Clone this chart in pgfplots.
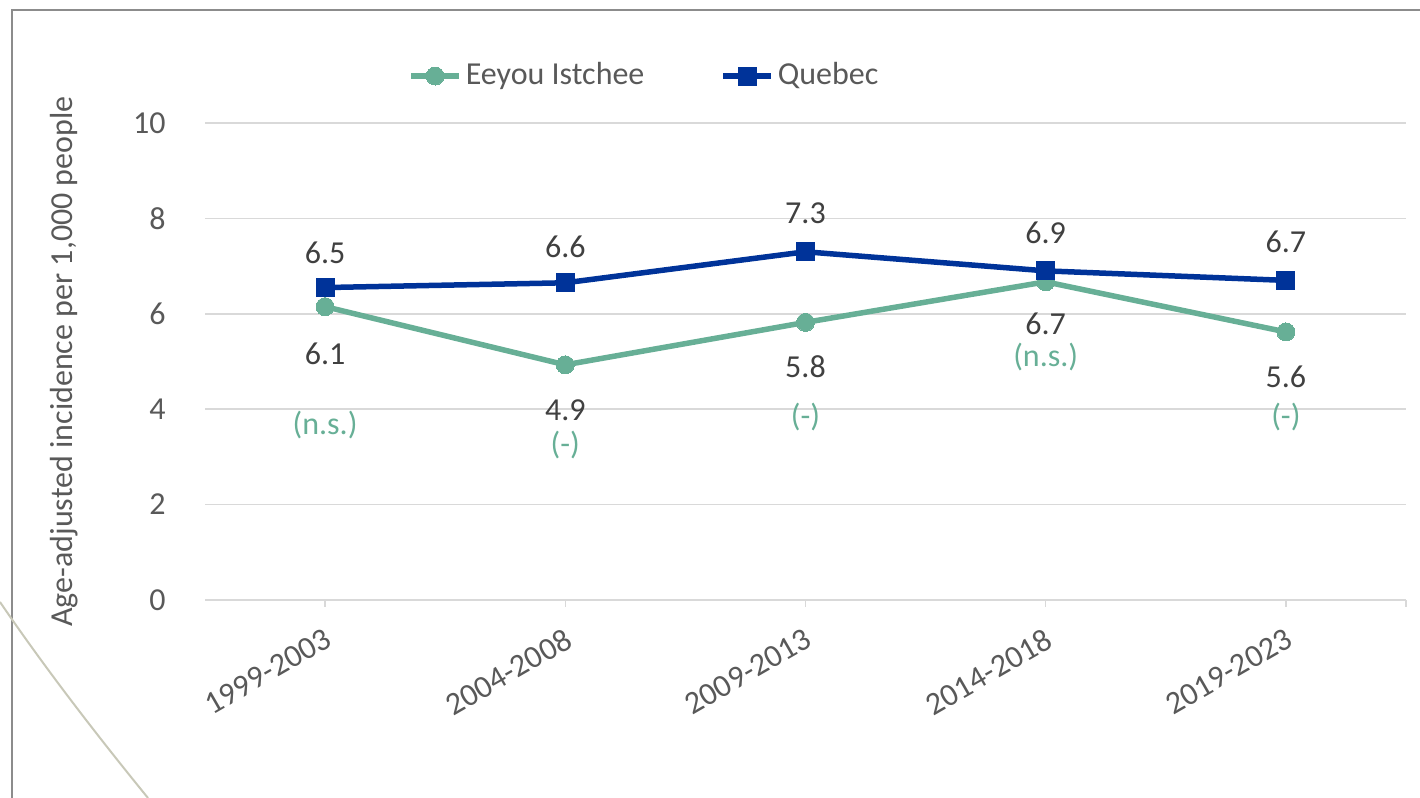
\documentclass[border=0pt]{standalone}
\usepackage{fontspec}
\setmainfont{Carlito}
\usepackage{pgfplots}
\pgfplotsset{compat=1.18}
\definecolor{eeyou}{HTML}{67AF96}
\definecolor{qc}{HTML}{003399}
\definecolor{gridc}{HTML}{D9D9D9}
\definecolor{txt}{HTML}{595959}
\definecolor{lab}{HTML}{404040}
\definecolor{framec}{HTML}{8C8C8C}
\definecolor{arcc}{HTML}{C8C8B8}
\begin{document}
\fontsize{16}{19.2}\selectfont
\begin{tikzpicture}
\useasboundingbox (0pt,0pt) rectangle (710pt,399pt);
\draw[framec, line width=1pt] (6pt,0pt) -- (6pt,394pt) -- (710pt,394pt);
\draw[arcc, line width=1pt] (0pt,98pt) .. controls (20pt,68.65pt) and (44.67pt,36pt) .. (74pt,0pt);
\begin{axis}[
  at={(102.5pt,99pt)}, anchor=south west,
  scale only axis, width=600.5pt, height=238.5pt,
  clip=false,
  xmin=-0.5, xmax=4.5, ymin=0, ymax=10,
  xtick={0,1,2,3,4},
  xticklabels={1999-2003,2004-2008,2009-2013,2014-2018,2019-2023},
  extra x ticks={4.5}, extra x tick labels={},
  ytick={0,2,4,6,8,10},
  axis lines*=left,
  y axis line style={draw=none},
  x axis line style={gridc, line width=0.75pt},
  ymajorgrids, grid style={gridc, line width=0.75pt},
  tick align=outside, major tick length=3.5pt,
  xtick style={gridc, line width=0.75pt},
  ytick style={draw=none},
  tick label style={font=\fontsize{16}{19.2}\selectfont, text=txt},
  /pgf/number format/assume math mode=true,
  yticklabel style={anchor=east, inner sep=0pt, xshift=-16pt},
  xticklabel style={yshift=-10pt, xshift=-1pt, rotate=30, anchor=north east, inner sep=0pt},
  ylabel={Age-adjusted incidence per 1,000 people},
  every axis y label/.style={at={(axis description cs:-0.1107,0.5)}, anchor=base, rotate=90, text=txt, font=\fontsize{16}{19.2}\selectfont},
  legend style={draw=none, fill=none, at={(axis description cs:0.169,1.0985)}, anchor=west,
    legend columns=2, font=\fontsize{16}{19.2}\selectfont, text=txt,
    /tikz/every even column/.append style={column sep=36pt},
    inner sep=0pt, nodes={inner sep=2pt}},
  legend image code/.code={\draw[mark repeat=2,mark phase=2] plot coordinates {(0pt,0pt)(12pt,0pt)(24pt,0pt)};},
]
\addplot[eeyou, line width=2.75pt, line join=round, mark=*, mark size=4.5pt, mark options={fill=eeyou, draw=eeyou, line width=0pt}]
  coordinates {(0,6.15)(1,4.93)(2,5.82)(3,6.67)(4,5.62)};
\addlegendentry{Eeyou Istchee}
\addplot[qc, line width=2.75pt, line join=round, mark=square*, mark size=4.5pt, mark options={fill=qc, draw=qc, line width=0pt}]
  coordinates {(0,6.55)(1,6.65)(2,7.3)(3,6.9)(4,6.7)};
\addlegendentry{Quebec}
% Quebec labels
\node[lab] at (axis cs:0,7.275) {6.5};
\node[lab] at (axis cs:1,7.40) {6.6};
\node[lab] at (axis cs:2,8.113) {7.3};
\node[lab] at (axis cs:3,7.694) {6.9};
\node[lab] at (axis cs:4,7.505) {6.7};
% Eeyou labels
\node[lab] at (axis cs:0,5.157) {6.1};
\node[lab] at (axis cs:1,3.983) {4.9};
\node[lab] at (axis cs:2,4.885) {5.8};
\node[lab] at (axis cs:3,5.786) {6.7};
\node[lab] at (axis cs:4,4.675) {5.6};
\node[eeyou] at (axis cs:0,3.669) {(n.s.)};
\node[eeyou] at (axis cs:1,3.249) {(-)};
\node[eeyou] at (axis cs:2,3.836) {(-)};
\node[eeyou] at (axis cs:3,5.094) {(n.s.)};
\node[eeyou] at (axis cs:4,3.836) {(-)};
\end{axis}
\end{tikzpicture}
\end{document}
